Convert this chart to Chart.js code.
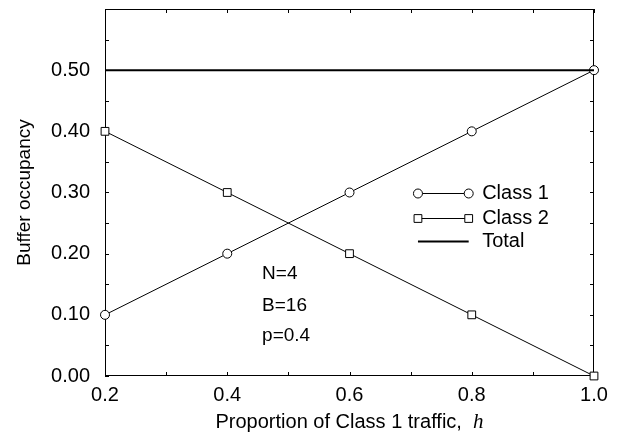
<!DOCTYPE html>
<html>
<head>
<meta charset="utf-8">
<script src="https://cdn.jsdelivr.net/npm/chart.js@4/dist/chart.umd.min.js"></script>
<style>
  html, body { margin: 0; padding: 0; background: #fff; }
  #wrap { width: 622px; height: 436px; }
</style>
</head>
<body>
<div id="wrap"><canvas id="c"></canvas></div>
<script>
// Proportion of Class 1 traffic (h) and mean buffer occupancy per class
const trafficShare     = [0.2, 0.4, 0.6, 0.8, 1.0];
const class1Occupancy  = [0.10, 0.20, 0.30, 0.40, 0.50];
const class2Occupancy  = [0.40, 0.30, 0.20, 0.10, 0.00];
const totalOccupancy   = [0.50, 0.50, 0.50, 0.50, 0.50];
const xTickValues      = [0.2, 0.4, 0.6, 0.8, 1.0];
const yTickValues      = [0.00, 0.10, 0.20, 0.30, 0.40, 0.50];
const seriesNames      = ['Class 1', 'Class 2', 'Total'];
const parameterNotes   = ['N=4', 'B=16', 'p=0.4'];

const SANS = '"Liberation Sans", Arial, Helvetica, sans-serif';
const INK = '#000';

const pts = ys => trafficShare.map((x, i) => ({ x, y: ys[i] }));

// Box frame with small inward ticks on all four sides
const framePlugin = {
  id: 'frame',
  beforeDatasetsDraw(chart) {
    const { ctx, chartArea: a, scales: { x, y } } = chart;
    ctx.save();
    ctx.strokeStyle = INK;
    ctx.lineWidth = 1;
    ctx.strokeRect(a.left + 0.5, a.top + 0.5, a.right - a.left - 1, a.bottom - a.top - 1);
    const len = 4;
    ctx.beginPath();
    for (let k = 0; k <= 8; k++) {           // every 0.1 along h
      const px = Math.round(x.getPixelForValue(0.2 + k * 0.1)) + 0.5;
      ctx.moveTo(px, a.bottom); ctx.lineTo(px, a.bottom - len);
      ctx.moveTo(px, a.top);    ctx.lineTo(px, a.top + len);
    }
    for (let k = 0; k <= 12; k++) {          // every 0.05 of occupancy
      const py = Math.round(y.getPixelForValue(k * 0.05)) + 0.5;
      ctx.moveTo(a.left, py);  ctx.lineTo(a.left + len, py);
      ctx.moveTo(a.right, py); ctx.lineTo(a.right - len, py);
    }
    ctx.stroke();
    ctx.restore();
  }
};

// Horizontal axis title with italic h
const xTitlePlugin = {
  id: 'xTitle',
  afterDraw(chart) {
    const { ctx, chartArea: a } = chart;
    const main = 'Proportion of Class 1 traffic,  ';
    const sym = 'h';
    ctx.save();
    ctx.fillStyle = INK;
    ctx.textBaseline = 'middle';
    ctx.font = '20px ' + SANS;
    const w1 = ctx.measureText(main).width;
    ctx.font = 'italic 21px "Liberation Serif", "Times New Roman", serif';
    const w2 = ctx.measureText(sym).width;
    const x0 = (a.left + a.right) / 2 - (w1 + w2) / 2;
    const yy = a.bottom + 46;
    ctx.font = '20px ' + SANS;
    ctx.textAlign = 'left';
    ctx.fillText(main, x0, yy);
    ctx.font = 'italic 21px "Liberation Serif", "Times New Roman", serif';
    ctx.fillText(sym, x0 + w1, yy);
    ctx.restore();
  }
};

// In-plot legend and model parameters
const notesPlugin = {
  id: 'notes',
  afterDraw(chart) {
    const { ctx, scales: { x, y } } = chart;
    ctx.save();
    ctx.fillStyle = INK;
    ctx.textBaseline = 'middle';
    ctx.textAlign = 'left';
    ctx.font = '19px ' + SANS;
    const nx = x.getPixelForValue(0.457);
    const ny = [0.167, 0.115, 0.066];
    parameterNotes.forEach((t, i) => ctx.fillText(t, nx, y.getPixelForValue(ny[i])));

    const lx0 = x.getPixelForValue(0.712), lx1 = x.getPixelForValue(0.795);
    const tx = x.getPixelForValue(0.817);
    const ly = [0.299, 0.259, 0.220];
    const order = [1, 2, 0]; // dataset indices for Class 1, Class 2, Total
    ctx.font = '20px ' + SANS;
    order.forEach((di, i) => {
      const ds = chart.data.datasets[di];
      const py = Math.round(y.getPixelForValue(ly[i])) + 0.5;
      ctx.strokeStyle = INK;
      ctx.lineWidth = ds.borderWidth;
      ctx.beginPath(); ctx.moveTo(lx0, py); ctx.lineTo(lx1, py); ctx.stroke();
      if (ds.pointRadius > 0) {
        const opts = { pointStyle: ds.pointStyle, radius: ds.pointRadius, borderWidth: 1 };
        ctx.fillStyle = '#fff'; ctx.strokeStyle = INK; ctx.lineWidth = 1;
        Chart.helpers.drawPoint(ctx, opts, lx0, py);
        Chart.helpers.drawPoint(ctx, opts, lx1, py);
      }
      ctx.fillStyle = INK;
      ctx.fillText(seriesNames[i], tx, py);
    });
    ctx.restore();
  }
};

new Chart(document.getElementById('c'), {
  type: 'line',
  data: {
    datasets: [
      { label: seriesNames[2], data: pts(totalOccupancy), borderColor: INK, borderWidth: 2,
        pointRadius: 0, pointStyle: false, clip: false },
      { label: seriesNames[0], data: pts(class1Occupancy), borderColor: INK, borderWidth: 1,
        pointStyle: 'circle', pointRadius: 4.5, pointBorderWidth: 1, clip: false,
        pointBorderColor: INK, pointBackgroundColor: '#fff' },
      { label: seriesNames[1], data: pts(class2Occupancy), borderColor: INK, borderWidth: 1,
        pointStyle: 'rect', pointRadius: 5.5, pointBorderWidth: 1, clip: false,
        pointBorderColor: INK, pointBackgroundColor: '#fff' }
    ]
  },
  options: {
    responsive: true,
    maintainAspectRatio: false,
    animation: false,
    devicePixelRatio: 1,
    layout: { padding: { left: 0, top: 9, right: 28, bottom: 0 } },
    plugins: { legend: { display: false }, tooltip: { enabled: false } },
    elements: { line: { tension: 0 } },
    scales: {
      x: {
        type: 'linear', min: 0.2, max: 1.0,
        grid: { display: false, drawTicks: false, tickLength: 0 }, border: { display: false },
        afterBuildTicks: s => { s.ticks = xTickValues.map(v => ({ value: v })); },
        ticks: { color: INK, padding: 7, font: { family: SANS, size: 20 },
                 callback: v => v.toFixed(1) },
        afterFit: s => { s.height = 60; s.paddingLeft = 0; s.paddingRight = 0; }
      },
      y: {
        type: 'linear', min: 0, max: 0.6,
        grid: { display: false, drawTicks: false, tickLength: 0 }, border: { display: false },
        afterBuildTicks: s => { s.ticks = yTickValues.map(v => ({ value: v })); },
        ticks: { color: INK, padding: 15, font: { family: SANS, size: 20 },
                 callback: v => v.toFixed(2) },
        title: { display: true, text: 'Buffer occupancy', color: INK,
                 font: { family: SANS, size: 19 }, padding: { top: 13, bottom: 0 } },
        afterFit: s => { s.width = 105; s.paddingTop = 0; s.paddingBottom = 0; }
      }
    }
  },
  plugins: [framePlugin, xTitlePlugin, notesPlugin]
});
</script>
</body>
</html>
